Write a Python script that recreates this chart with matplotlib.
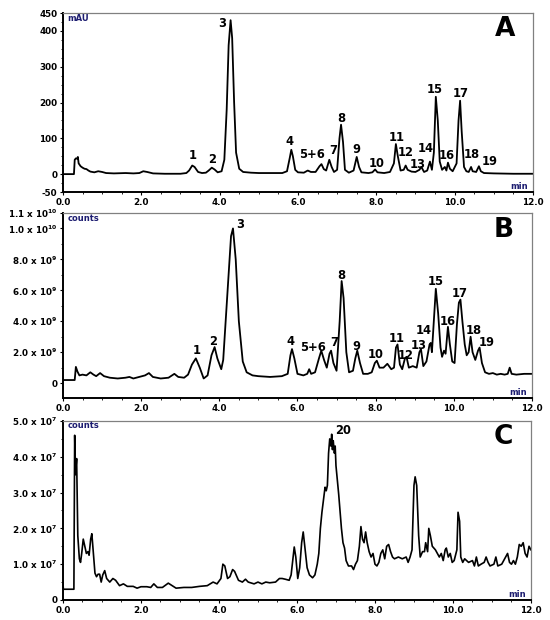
import matplotlib.pyplot as plt
from matplotlib.ticker import FixedLocator, MultipleLocator

# Panel A - UV trace (mAU)
uv_time = [0.0, 0.28, 0.30, 0.33, 0.36, 0.38, 0.40, 0.45, 0.5, 0.55, 0.6, 0.65, 0.7, 0.8, 0.9, 1.0,
           1.1, 1.3, 1.6, 1.8, 1.95, 2.05, 2.15, 2.3, 2.6, 3.0, 3.15, 3.22, 3.3, 3.36, 3.45, 3.55,
           3.65, 3.72, 3.8, 3.87, 3.95, 4.05, 4.12, 4.18, 4.23, 4.28, 4.32, 4.37, 4.42, 4.5, 4.6,
           4.8, 5.0, 5.3, 5.6, 5.72, 5.79, 5.83, 5.87, 5.93, 6.0, 6.15, 6.25, 6.33, 6.45, 6.55,
           6.6, 6.66, 6.72, 6.8, 6.86, 6.92, 7.0, 7.06, 7.1, 7.15, 7.2, 7.3, 7.42, 7.5, 7.56, 7.62,
           7.8, 7.9, 7.97, 8.03, 8.2, 8.35, 8.45, 8.5, 8.55, 8.62, 8.7, 8.75, 8.8, 8.9, 9.0, 9.1,
           9.15, 9.22, 9.3, 9.37, 9.42, 9.47, 9.52, 9.57, 9.62, 9.68, 9.75, 9.79, 9.83, 9.88, 9.95,
           10.05, 10.1, 10.14, 10.18, 10.24, 10.3, 10.36, 10.42, 10.46, 10.55, 10.62, 10.67, 10.75,
           11.0, 11.5, 12.0]
uv_mau = [0, 0, 40, 44, 43, 48, 30, 22, 18, 15, 14, 10, 7, 5, 8, 6,
          3, 2, 3, 2, 3, 8, 6, 2, 1, 1, 3, 10, 24, 20, 6, 3,
          4, 10, 18, 13, 5, 8, 40, 180, 360, 430, 380, 200, 60, 15, 6,
          4, 3, 3, 3, 8, 45, 68, 50, 12, 5, 4, 10, 6, 6, 22,
          28, 14, 10, 40, 20, 6, 12, 100, 138, 90, 12, 4, 10, 48, 20, 5,
          3, 5, 13, 5, 3, 6, 30, 84, 50, 10, 12, 24, 12, 7, 6, 12,
          20, 6, 10, 35, 12, 60, 216, 150, 35, 12, 20, 10, 32, 15, 8,
          30, 150, 205, 120, 20, 8, 6, 20, 8, 6, 22, 8, 3,
          2, 1, 1]

# Panel B - total ion current (x 1e9 counts)
tic_time = [0.0, 0.3, 0.33, 0.37, 0.42, 0.5, 0.6, 0.7, 0.78, 0.85, 0.95, 1.05, 1.2, 1.4, 1.6, 1.7,
            1.8, 1.95, 2.1, 2.2, 2.3, 2.5, 2.7, 2.85, 2.95, 3.1, 3.2, 3.3, 3.4, 3.5, 3.6, 3.7, 3.8,
            3.88, 3.95, 4.05, 4.1, 4.2, 4.3, 4.35, 4.42, 4.5, 4.6, 4.7, 4.85, 5.0, 5.3, 5.6, 5.75,
            5.82, 5.86, 5.92, 6.0, 6.15, 6.25, 6.3, 6.35, 6.45, 6.55, 6.61, 6.68, 6.75, 6.82, 6.86,
            6.92, 7.0, 7.08, 7.13, 7.18, 7.25, 7.32, 7.42, 7.48, 7.53, 7.6, 7.68, 7.8, 7.9, 7.98,
            8.03, 8.1, 8.2, 8.3, 8.4, 8.47, 8.52, 8.56, 8.62, 8.68, 8.75, 8.79, 8.85, 8.95, 9.05,
            9.12, 9.16, 9.22, 9.3, 9.38, 9.41, 9.44, 9.5, 9.54, 9.6, 9.66, 9.7, 9.75, 9.79, 9.85,
            9.9, 9.96, 10.02, 10.08, 10.13, 10.17, 10.22, 10.28, 10.33, 10.38, 10.43, 10.48, 10.55,
            10.62, 10.66, 10.72, 10.8, 10.9, 11.0, 11.1, 11.2, 11.3, 11.38, 11.43, 11.48, 11.6,
            11.8, 12.0]
tic_counts = [0.2, 0.2, 1.05, 0.75, 0.5, 0.55, 0.5, 0.7, 0.55, 0.45, 0.65, 0.45, 0.35, 0.3, 0.35, 0.4,
              0.3, 0.4, 0.5, 0.65, 0.4, 0.3, 0.35, 0.6, 0.4, 0.35, 0.55, 1.2, 1.6, 1.0, 0.3, 0.5, 1.8,
              2.33, 1.6, 0.9, 1.5, 5.5, 9.5, 10.0, 8.0, 4.0, 1.4, 0.7, 0.5, 0.45, 0.4, 0.45, 0.6,
              1.8, 2.2, 1.6, 0.6, 0.5, 0.6, 0.9, 0.6, 0.7, 1.6, 2.1, 1.5, 1.0, 1.9, 2.1,
              1.3, 0.8, 4.0, 6.6, 5.5, 2.0, 0.7, 0.8, 1.6, 2.1, 1.3, 0.6, 0.6, 0.7, 1.3,
              1.45, 1.0, 1.0, 1.25, 0.9, 1.0, 2.3, 2.5, 1.2, 0.9, 1.6, 1.7, 1.0, 1.1, 1.0,
              2.0, 2.2, 1.1, 1.4, 2.5, 2.6, 2.0, 4.5, 6.1, 4.5, 2.3, 1.7, 2.1, 1.9, 3.64,
              2.5, 1.4, 1.3, 3.8, 5.2, 5.4, 4.0, 2.5, 1.8, 2.0, 3.0, 2.0, 1.5,
              2.1, 2.3, 1.3, 0.7, 0.6, 0.65, 0.55, 0.6, 0.55, 0.6, 1.0, 0.6, 0.55,
              0.6, 0.6]

# Panel C - extracted ion trace (x 1e7 counts)
eic_time = [0.0, 0.01, 0.28, 0.30, 0.32, 0.35, 0.38, 0.42, 0.45, 0.48, 0.52, 0.56, 0.6, 0.64, 0.67,
            0.71, 0.74, 0.78, 0.82, 0.86, 0.9, 0.94, 0.98, 1.02, 1.07, 1.12, 1.2, 1.28, 1.35, 1.45,
            1.55, 1.65, 1.8, 1.9, 2.0, 2.15, 2.25, 2.33, 2.42, 2.55, 2.7, 2.8, 2.9, 3.1, 3.3, 3.5,
            3.7, 3.85, 3.95, 4.05, 4.1, 4.15, 4.22, 4.28, 4.35, 4.4, 4.5, 4.6, 4.68, 4.75, 4.9, 5.0,
            5.1, 5.2, 5.3, 5.45, 5.55, 5.62, 5.7, 5.8, 5.85, 5.9, 5.93, 5.97, 6.02, 6.07, 6.12, 6.16,
            6.2, 6.26, 6.32, 6.4, 6.46, 6.52, 6.56, 6.6, 6.64, 6.68, 6.72, 6.75, 6.78, 6.81, 6.84,
            6.87, 6.89, 6.91, 6.93, 6.96, 6.98, 7.0, 7.04, 7.07, 7.11, 7.14, 7.18, 7.22, 7.26, 7.32,
            7.4, 7.45, 7.5, 7.55, 7.6, 7.64, 7.68, 7.72, 7.76, 7.8, 7.85, 7.9, 7.95, 8.0, 8.05, 8.1,
            8.15, 8.2, 8.25, 8.3, 8.35, 8.4, 8.45, 8.5, 8.6, 8.7, 8.8, 8.85, 8.9, 8.95, 9.0, 9.03,
            9.07, 9.12, 9.16, 9.22, 9.27, 9.3, 9.35, 9.38, 9.42, 9.47, 9.55, 9.6, 9.65, 9.7, 9.75,
            9.8, 9.83, 9.88, 9.93, 9.98, 10.03, 10.1, 10.13, 10.17, 10.2, 10.25, 10.3, 10.4, 10.5,
            10.55, 10.6, 10.65, 10.72, 10.8, 10.85, 10.9, 10.95, 11.05, 11.1, 11.15, 11.25, 11.35,
            11.4, 11.45, 11.5, 11.55, 11.6, 11.65, 11.7, 11.75, 11.8, 11.85, 11.9, 11.95, 12.0]
eic_counts = [0.45, 0.3, 0.3, 4.6, 3.5, 3.95, 1.8, 1.15, 1.05, 1.3, 1.7, 1.5, 1.3, 1.35, 1.25,
              1.7, 1.85, 1.3, 0.75, 0.65, 0.72, 0.72, 0.5, 0.7, 0.82, 0.6, 0.5, 0.6, 0.55, 0.4,
              0.45, 0.38, 0.38, 0.33, 0.37, 0.37, 0.35, 0.45, 0.35, 0.35, 0.47, 0.4, 0.33, 0.35, 0.35, 0.38,
              0.4, 0.5, 0.45, 0.6, 1.0, 0.95, 0.6, 0.65, 0.85, 0.8, 0.55, 0.5, 0.58, 0.5, 0.45, 0.5,
              0.45, 0.5, 0.48, 0.5, 0.6, 0.6, 0.58, 0.55, 0.7, 1.2, 1.48, 1.2, 0.6, 0.9, 1.6, 1.9,
              1.5, 0.9, 0.7, 0.62, 0.7, 1.0, 1.3, 2.0, 2.45, 2.8, 3.15, 3.05, 3.2, 4.1, 4.5,
              4.3, 4.63, 4.2, 4.45, 4.1, 4.3, 3.75, 3.3, 2.95, 2.4, 2.0, 1.6, 1.45, 1.1, 0.95,
              0.95, 0.85, 1.0, 1.1, 1.5, 2.05, 1.7, 1.6, 1.9, 1.6, 1.35, 1.2, 1.3, 1.0, 0.95, 1.05,
              1.3, 1.4, 1.15, 1.5, 1.55, 1.35, 1.2, 1.15, 1.2, 1.15, 1.2, 1.05, 1.2, 1.4, 3.2, 3.44,
              3.2, 1.8, 1.2, 1.35, 1.35, 1.6, 1.35, 2.0, 1.8, 1.5, 1.4, 1.3, 1.2, 1.3, 1.1,
              1.4, 1.45, 1.2, 1.3, 1.05, 1.1, 1.4, 2.45, 2.2, 1.2, 1.05, 1.15, 1.05, 1.1,
              0.95, 1.2, 0.95, 1.0, 1.05, 1.2, 1.05, 0.95, 1.0, 1.2, 0.95, 1.0, 1.2,
              1.3, 1.05, 1.0, 1.1, 1.0, 1.2, 1.55, 1.5, 1.6, 1.3, 1.2, 1.5, 1.4]

# peak labels
a_labels = ['1', '2', '3', '4', '5+6', '7', '8', '9', '10', '11', '12', '13', '14', '15', '16', '17', '18', '19']
a_label_x = [3.32, 3.81, 4.07, 5.79, 6.36, 6.9, 7.11, 7.5, 8.0, 8.52, 8.76, 9.05, 9.25, 9.49, 9.8, 10.15, 10.44, 10.89]
a_label_y = [53, 42, 421, 90, 56, 67, 156, 69, 30, 103, 60, 28, 72, 237, 53, 224, 56, 34]

b_labels = a_labels
b_label_x = [3.41, 3.85, 4.54, 5.82, 6.39, 6.94, 7.13, 7.52, 8.01, 8.55, 8.78, 9.1, 9.23, 9.54, 9.85, 10.15, 10.51, 10.85]
b_label_y = [2.1, 2.69, 10.24, 2.69, 2.33, 2.61, 6.99, 2.39, 1.84, 2.86, 1.76, 2.42, 3.38, 6.56, 4.0, 5.81, 3.38, 2.65]

c_labels = ['20']
c_label_x = [7.19]
c_label_y = [4.74]

# axis ticks
x_ticks = [0, 2, 4, 6, 8, 10, 12]
a_yticks = [-50, 0, 100, 200, 300, 400, 450]
b_yticks = [0, 2e9, 4e9, 6e9, 8e9, 1.0e10, 1.1e10]
b_yticklabels = ['0', r'2.0 x 10$^{\mathbf{9}}$', r'4.0 x 10$^{\mathbf{9}}$', r'6.0 x 10$^{\mathbf{9}}$',
                 r'8.0 x 10$^{\mathbf{9}}$', r'1.0 x 10$^{\mathbf{10}}$', r'1.1 x 10$^{\mathbf{10}}$']
c_yticks = [0, 1e7, 2e7, 3e7, 4e7, 5e7]
c_yticklabels = ['0', r'1.0 x 10$^{\mathbf{7}}$', r'2.0 x 10$^{\mathbf{7}}$', r'3.0 x 10$^{\mathbf{7}}$',
                 r'4.0 x 10$^{\mathbf{7}}$', r'5.0 x 10$^{\mathbf{7}}$']

plt.rcParams['font.family'] = 'DejaVu Sans'
plt.rcParams['mathtext.fontset'] = 'dejavusans'

fig = plt.figure(figsize=(5.5, 6.2), dpi=100)
navy = '#1c1c70'


def setup_axes(ax, yticks, yticklabels, ylim, yminor, unit, letter):
    ax.set_xlim(0, 12)
    ax.set_ylim(*ylim)
    ax.xaxis.set_major_locator(FixedLocator(x_ticks))
    ax.set_xticklabels(['%.1f' % t for t in x_ticks])
    ax.xaxis.set_minor_locator(MultipleLocator(0.5))
    ax.yaxis.set_major_locator(FixedLocator(yticks))
    ax.set_yticklabels(yticklabels)
    ax.yaxis.set_minor_locator(MultipleLocator(yminor))
    ax.tick_params(which='major', direction='out', length=2.5, width=0.8, pad=1.5, labelsize=6.3)
    ax.tick_params(which='minor', direction='out', length=1.5, width=0.6)
    for lbl in ax.get_xticklabels() + ax.get_yticklabels():
        lbl.set_fontweight('bold')
    for side in ['left', 'bottom']:
        ax.spines[side].set_linewidth(1.4)
        ax.spines[side].set_color('black')
    for side in ['top', 'right']:
        ax.spines[side].set_linewidth(0.9)
        ax.spines[side].set_color('#808080')
    ax.text(0.01, 0.972, unit, transform=ax.transAxes, ha='left', va='center',
            fontsize=6, fontweight='bold', color=navy)
    ax.text(0.97, 0.03, 'min', transform=ax.transAxes, ha='center', va='center',
            fontsize=6, fontweight='bold', color=navy)
    ax.text(0.94, 0.91, letter, transform=ax.transAxes, ha='center', va='center',
            fontsize=19, fontweight='bold')


# Panel A
ax_a = fig.add_axes([0.1145, 0.6903, 0.8545, 0.2887])
ax_a.plot(uv_time, uv_mau, color='black', linewidth=1.3)
setup_axes(ax_a, a_yticks, [str(t) for t in a_yticks], (-50, 450), 25, 'mAU', 'A')
for t, x, y in zip(a_labels, a_label_x, a_label_y):
    ax_a.text(x, y, t, ha='center', va='center', fontsize=8.3, fontweight='bold')

# Panel B
ax_b = fig.add_axes([0.1145, 0.3581, 0.8527, 0.2984])
ax_b.plot(tic_time, [v * 1e9 for v in tic_counts], color='black', linewidth=1.3)
setup_axes(ax_b, b_yticks, b_yticklabels, (-0.96e9, 1.1e10), 1e9, 'counts', 'B')
for t, x, y in zip(b_labels, b_label_x, b_label_y):
    ax_b.text(x, y * 1e9, t, ha='center', va='center', fontsize=8.3, fontweight='bold')

# Panel C
ax_c = fig.add_axes([0.1145, 0.0323, 0.8509, 0.2887])
ax_c.plot(eic_time, [v * 1e7 for v in eic_counts], color='black', linewidth=1.2)
setup_axes(ax_c, c_yticks, c_yticklabels, (0, 5e7), 0.5e7, 'counts', 'C')
for t, x, y in zip(c_labels, c_label_x, c_label_y):
    ax_c.text(x, y * 1e7, t, ha='center', va='center', fontsize=8.3, fontweight='bold')

fig.savefig('out.png', dpi=100)
